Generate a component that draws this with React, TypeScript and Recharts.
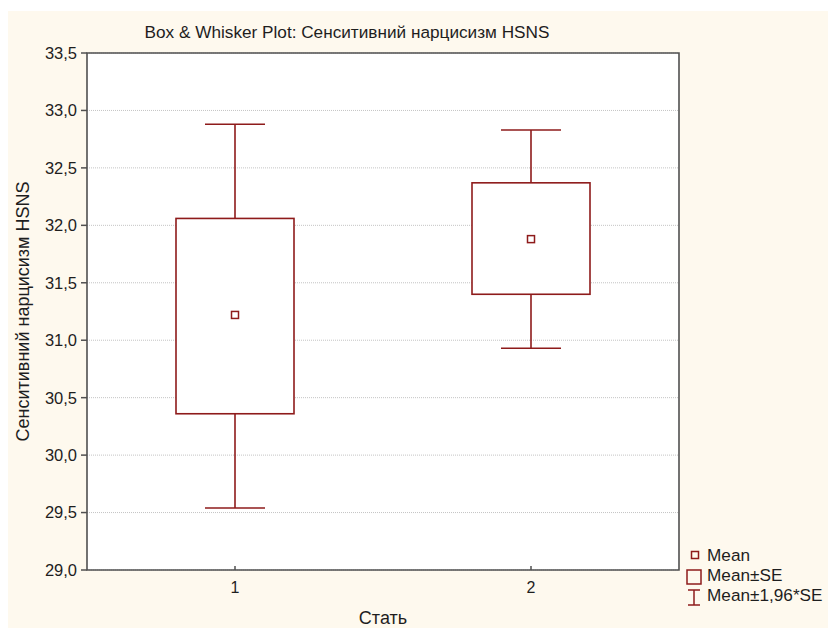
import {
  ComposedChart,
  Bar,
  Scatter,
  XAxis,
  YAxis,
  CartesianGrid,
  ReferenceArea,
  Label,
} from "recharts";

// group labels on the x axis
const groups = ["1", "2"];
// values
const means = [31.22, 31.88];
const seLow = [30.36, 31.4];
const seHigh = [32.06, 32.37];
const ciLow = [29.54, 30.93];
const ciHigh = [32.88, 32.83];
const yTicks = [29, 29.5, 30, 30.5, 31, 31.5, 32, 32.5, 33, 33.5];

const data = groups.map((g, i) => ({
  group: g,
  mean: means[i],
  se: [seLow[i], seHigh[i]],
  ci: [ciLow[i], ciHigh[i]],
}));

const RED = "#8E1B1B";
const FRAME = "#505050";
const TEXT = "#1e1e1e";
const FONT = "'Liberation Sans', Arial, sans-serif";

function WhiskerShape(props: any) {
  const { x, y, width, height } = props;
  const top = Math.min(y, y + height);
  const bottom = Math.max(y, y + height);
  const cx = x + width / 2;
  const half = 30;
  return (
    <g stroke={RED} strokeWidth={1.6} fill="none">
      <line x1={cx} y1={top} x2={cx} y2={bottom} />
      <line x1={cx - half} y1={top} x2={cx + half} y2={top} />
      <line x1={cx - half} y1={bottom} x2={cx + half} y2={bottom} />
    </g>
  );
}

function BoxShape(props: any) {
  const { x, y, width, height } = props;
  const top = Math.min(y, y + height);
  return (
    <rect
      x={x}
      y={top}
      width={width}
      height={Math.abs(height)}
      fill="#ffffff"
      stroke={RED}
      strokeWidth={1.6}
    />
  );
}

function MeanShape(props: any) {
  const { cx, cy } = props;
  return (
    <rect x={cx - 3.5} y={cy - 3.5} width={7} height={7} fill="#ffffff" stroke={RED} strokeWidth={1.5} />
  );
}

function BottomTick(props: any) {
  const { x, y, payload } = props;
  return (
    <g>
      <line x1={x} y1={y} x2={x} y2={y - 4} stroke={FRAME} strokeWidth={1.5} />
      <text x={x} y={y + 23} textAnchor="middle" fontSize={16} fontFamily={FONT} fill={TEXT}>
        {payload.value}
      </text>
    </g>
  );
}

function TopTick(props: any) {
  const { x, y } = props;
  return <line x1={x} y1={y} x2={x} y2={y + 4} stroke={FRAME} strokeWidth={1.5} />;
}

function Overlay() {
  return (
    <svg
      width={820}
      height={617}
      style={{ position: "absolute", left: 0, top: 0, pointerEvents: "none", overflow: "visible" }}
    >
      <text x={339} y={27} textAnchor="middle" fontSize={17.2} fontFamily={FONT} fill={TEXT}>
        Box &amp; Whisker Plot: Сенситивний нарцисизм HSNS
      </text>
      <g fontSize={17.2} fontFamily={FONT} fill={TEXT}>
        <rect x={683.5} y={540.5} width={7} height={7} fill="none" stroke={RED} strokeWidth={1.5} />
        <text x={699} y={550}>Mean</text>
        <rect x={679} y={559} width={14} height={14} fill="none" stroke={RED} strokeWidth={1.5} />
        <text x={699} y={570}>Mean±SE</text>
        <g stroke={RED} strokeWidth={1.5}>
          <line x1={686} y1={579} x2={686} y2={594} />
          <line x1={680} y1={579} x2={692} y2={579} />
          <line x1={680} y1={594} x2={692} y2={594} />
        </g>
        <text x={699} y={590}>Mean±1,96*SE</text>
      </g>
    </svg>
  );
}

export default function App() {
  return (
    <div style={{ width: 828, height: 628, paddingTop: 11, paddingLeft: 8, boxSizing: "border-box" }}>
      <style>{"body { margin: 0; overflow: hidden; }"}</style>
      <div
        style={{
          position: "relative",
          width: 820,
          height: 617,
          background: "#FEF9EE",
        }}
      >
        <ComposedChart
          width={820}
          height={617}
          data={data}
          margin={{ top: 42, right: 149, left: 0, bottom: 0 }}
        >
          <CartesianGrid vertical={false} stroke="#c4c4c4" strokeDasharray="1 1" fill="#ffffff" />
          <XAxis
            dataKey="group"
            height={58}
            interval={0}
            axisLine={false}
            tickLine={false}
            tickSize={0}
            tickMargin={0}
            tick={<BottomTick />}
          >
            <Label
              content={(p: any) => {
                const vb = p.viewBox;
                return (
                  <text
                    x={vb.x + vb.width / 2}
                    y={613}
                    textAnchor="middle"
                    fontSize={18}
                    fontFamily={FONT}
                    fill={TEXT}
                  >
                    Стать
                  </text>
                );
              }}
            />
          </XAxis>
          <XAxis
            dataKey="group"
            xAxisId="top"
            orientation="top"
            height={0}
            interval={0}
            axisLine={false}
            tickLine={false}
            tickSize={0}
            tickMargin={0}
            tick={<TopTick />}
          />
          <XAxis dataKey="group" xAxisId="w" hide />
          <YAxis
            domain={[29, 33.5]}
            ticks={yTicks}
            width={79}
            interval={0}
            axisLine={false}
            tickLine={{ stroke: FRAME, strokeWidth: 1.5 }}
            tickSize={6}
            tickMargin={4}
            tickFormatter={(v: number) => v.toFixed(1).replace(".", ",")}
            tick={{ fontSize: 16.5, fontFamily: FONT, fill: TEXT }}
          >
            <Label
              content={(p: any) => {
                const vb = p.viewBox;
                const cy = vb.y + vb.height / 2;
                return (
                  <text
                    x={15}
                    y={cy}
                    transform={`rotate(-90 15 ${cy})`}
                    textAnchor="middle"
                    dominantBaseline="central"
                    fontSize={18}
                    fontFamily={FONT}
                    fill={TEXT}
                  >
                    Сенситивний нарцисизм HSNS
                  </text>
                );
              }}
            />
          </YAxis>
          <Bar
            dataKey="ci"
            xAxisId="w"
            barSize={118}
            shape={<WhiskerShape />}
            isAnimationActive={false}
          />
          <Bar dataKey="se" barSize={118} shape={<BoxShape />} isAnimationActive={false} />
          <Scatter dataKey="mean" shape={<MeanShape />} isAnimationActive={false} />
          <ReferenceArea
            y1={29}
            y2={33.5}
            fill="none"
            stroke={FRAME}
            strokeWidth={1.6}
            ifOverflow="visible"
          />
        </ComposedChart>
        <Overlay />
      </div>
    </div>
  );
}
